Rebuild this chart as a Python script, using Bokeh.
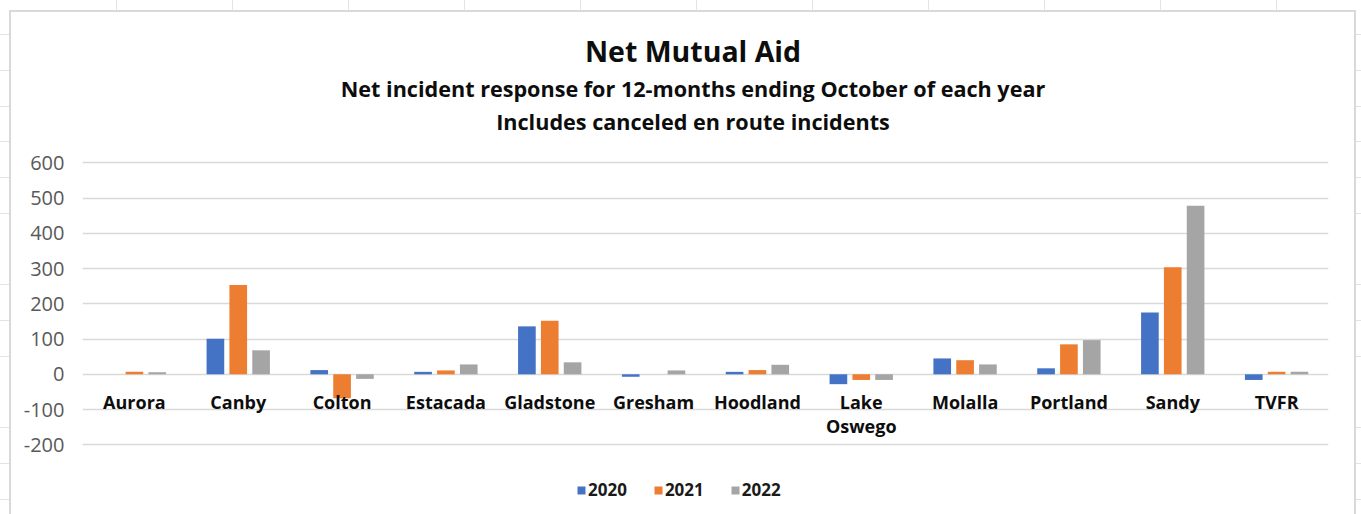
from bokeh.plotting import figure
from bokeh.models import (ColumnDataSource, FactorRange, Range1d, FixedTicker, Label,
                          Legend, LegendItem)
from bokeh.transform import dodge
from bokeh.core.properties import value
from bokeh.embed import file_html
from bokeh.resources import INLINE

# ---------------- data ----------------
categories = ["Aurora", "Canby", "Colton", "Estacada", "Gladstone", "Gresham",
              "Hoodland", "Lake Oswego", "Molalla", "Portland", "Sandy", "TVFR"]
category_labels = ["Aurora", "Canby", "Colton", "Estacada", "Gladstone", "Gresham",
                   "Hoodland", "Lake\nOswego", "Molalla", "Portland", "Sandy", "TVFR"]
years = ["2020", "2021", "2022"]
net_2020 = [0, 101, 12, 7, 136, -7, 7, -28, 45, 17, 175, -16]
net_2021 = [7, 253, -68, 11, 152, 0, 12, -16, 40, 85, 304, 7]
net_2022 = [6, 68, -13, 28, 34, 11, 27, -16, 28, 97, 478, 7]
y_ticks = [-200, -100, 0, 100, 200, 300, 400, 500, 600]
y_tick_labels = ["-200", "-100", "0", "100", "200", "300", "400", "500", "600"]
title_text = "Net Mutual Aid"
subtitle_lines = ["Net incident response for 12-months ending October of each year",
                  "Includes canceled en route incidents"]

# ---------------- style ----------------
colors = ["#4472C4", "#ED7D31", "#A5A5A5"]
FONT = "Open Sans"
W, H = 1361, 514
BL, BR = 82, 33

# spreadsheet-like page background (chart border + sheet grid), pure CSS decoration
bg_layers = [
    ("linear-gradient(#d9d9d9,#d9d9d9)", "2px 504px", "9px 10px"),
    ("linear-gradient(#d9d9d9,#d9d9d9)", "1347px 2px", "9px 10px"),
    ("linear-gradient(#d9d9d9,#d9d9d9)", "2px 504px", "1354px 10px"),
    ("repeating-linear-gradient(to right, transparent 0 115px, #e3e3e3 115px 116px)",
     "1360px 10px", "1px 0px"),
    ("repeating-linear-gradient(to bottom, transparent 0 34px, #e3e3e3 34px 35px, transparent 35px 35.75px)",
     "9px 514px", "0px 0px"),
    ("repeating-linear-gradient(to bottom, transparent 0 34px, #e3e3e3 34px 35px, transparent 35px 35.75px)",
     "5px 514px", "1356px 0px"),
]
host_styles = {
    "background-color": "white",
    "background-image": ", ".join(b[0] for b in bg_layers),
    "background-size": ", ".join(b[1] for b in bg_layers),
    "background-position": ", ".join(b[2] for b in bg_layers),
    "background-repeat": "no-repeat",
}

source = ColumnDataSource(data=dict(cat=categories, label=category_labels,
                                    zero=[0] * len(categories),
                                    y2020=net_2020, y2021=net_2021, y2022=net_2022))

p = figure(x_range=FactorRange(*categories), y_range=Range1d(-397.7, 1060.4),
           width=W, height=H, output_backend="svg", toolbar_location=None,
           title=None, x_axis_location=None,
           min_border_left=BL, min_border_right=BR, min_border_top=0, min_border_bottom=0,
           styles=host_styles)
p.outline_line_color = None
p.background_fill_color = None
p.border_fill_color = None

# axes / grid
p.xgrid.visible = False
p.yaxis.ticker = FixedTicker(ticks=y_ticks)
p.ygrid.ticker = FixedTicker(ticks=y_ticks)
p.yaxis.major_label_overrides = {t: l for t, l in zip(y_ticks, y_tick_labels)}
p.yaxis.axis_line_color = None
p.yaxis.major_tick_line_color = None
p.yaxis.minor_tick_line_color = None
p.yaxis.major_tick_out = 0
p.yaxis.major_tick_in = 0
p.yaxis.major_label_standoff = 18
p.yaxis.major_label_text_font = FONT
p.yaxis.major_label_text_font_size = "20px"
p.yaxis.major_label_text_color = "#595959"
p.ygrid.grid_line_color = "#d9d9d9"
p.ygrid.grid_line_width = 1.5

# bars
offsets = [-0.22, 0.0, 0.22]
fields = ["y2020", "y2021", "y2022"]
renderers = []
for f, off, c in zip(fields, offsets, colors):
    r = p.vbar(x=dodge("cat", off, range=p.x_range), top=f, bottom=0, width=0.17,
               source=source, fill_color=c, line_color=None)
    renderers.append(r)

# category labels
p.text(x="cat", y="zero", text="label", source=source, text_align="center",
       text_baseline="top", y_offset=16, text_font=value(FONT),
       text_font_style="bold", text_font_size="18px", text_color="#0d0d0d",
       text_line_height=1.0)

# legend
legend = Legend(items=[LegendItem(label=yr, renderers=[r]) for yr, r in zip(years, renderers)],
                orientation="horizontal", location=(576 - BL, 13),
                glyph_width=10, glyph_height=10, label_standoff=2, spacing=26,
                padding=0, margin=0, label_height=20,
                background_fill_alpha=0, border_line_color=None,
                label_text_font=FONT, label_text_font_style="bold",
                label_text_font_size="17px", label_text_color="#1a1a1a")
p.add_layout(legend)

# titles (screen units: x from frame left, y up from frame bottom = canvas bottom)
cx = 692.5 - BL
p.add_layout(Label(x=cx, y=H - 50, x_units="screen", y_units="screen", text=title_text,
                   text_align="center", text_baseline="middle", text_font=FONT,
                   text_font_style="bold", text_font_size="28.5px", text_color="#0d0d0d"))
for txt, yy in zip(subtitle_lines, [88, 121]):
    p.add_layout(Label(x=cx, y=H - yy, x_units="screen", y_units="screen", text=txt,
                       text_align="center", text_baseline="middle", text_font=FONT,
                       text_font_style="bold", text_font_size="21.6px", text_color="#0d0d0d"))

open("out.html", "w").write(file_html(p, INLINE))
